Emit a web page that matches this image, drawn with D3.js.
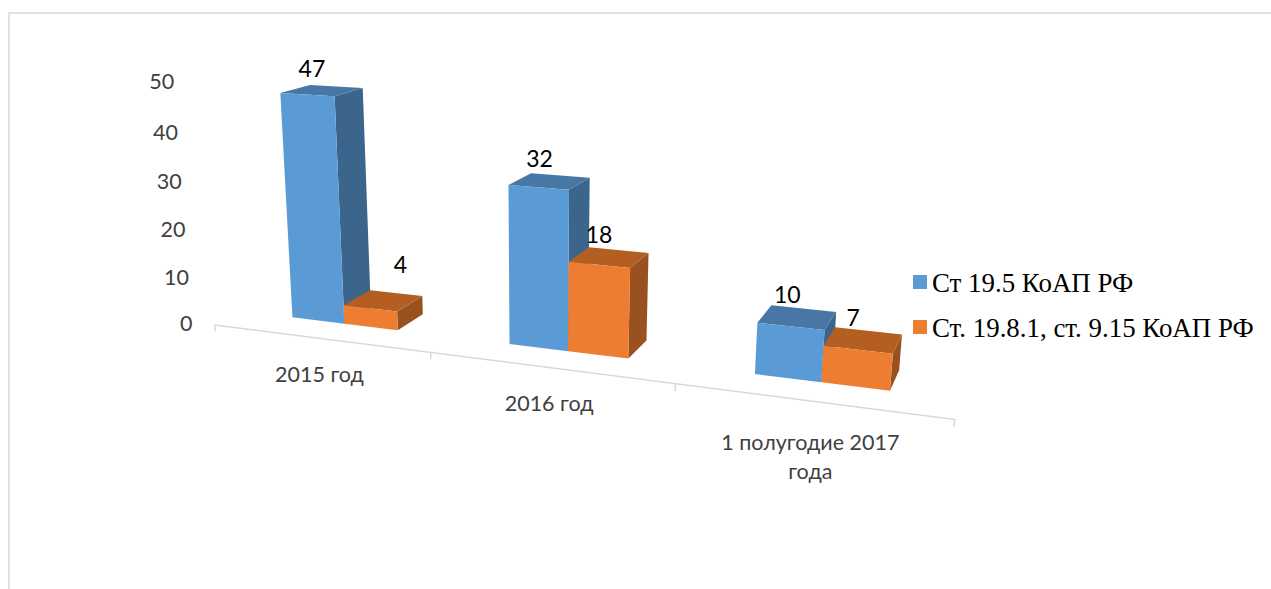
<!DOCTYPE html>
<html>
<head>
<meta charset="utf-8">
<style>
  body { margin: 0; background: #fff; }
  svg { display: block; }
  .tick-label { font-family: Lato, sans-serif; font-size: 21.5px; fill: #404040; }
  .data-label { font-family: Lato, sans-serif; font-size: 23px; fill: #000; }
  .legend-label { font-family: "Liberation Serif", serif; font-size: 26.9px; fill: #000; }
</style>
</head>
<body>
<div id="vis"></div>
<script src="https://d3js.org/d3.v7.min.js"></script>
<script>
const categories = ["2015 год", "2016 год", "1 полугодие 2017 года"];
const categoryLines = [["2015 год"], ["2016 год"], ["1 полугодие 2017", "года"]];
const seriesNames = ["Ст 19.5 КоАП РФ", "Ст. 19.8.1, ст. 9.15 КоАП РФ"];
const art195 = [47, 32, 10];
const art1981 = [4, 18, 7];
const yTicks = [0, 10, 20, 30, 40, 50];

const seriesValues = [art195, art1981];
const faceColors = [
  { front: "#5b9bd5", top: "#4877a5", side: "#3b658b" },
  { front: "#ed7d31", top: "#b55e22", side: "#9a5120" }
];

const width = 1271, height = 589;

// camera fitted to the picture: (band, value, depth) -> screen
function project(u, v, d) {
  const w = -0.0585645 * u - 0.00100836 * v + 0.0351334 * d + 1;
  return [
    (190.792 * u - 0.543888 * v + 39.5488 * d + 214.686) / w,
    (6.93082 * u - 4.94445 * v - 4.74024 * d + 324.918) / w
  ];
}

const x0 = d3.scaleBand().domain(categories).range([0, 3]);
const x1 = d3.scaleBand().domain(seriesNames).range([0.25, 0.75]);
const y = d3.scaleLinear().domain([0, 50]).range([0, 50]);
const depthFront = 0.88, depthBack = 1.88;

const svg = d3.select("#vis").append("svg")
  .attr("width", width)
  .attr("height", height);

// frame of the pasted picture
svg.append("path")
  .attr("d", "M9,589V13H1271")
  .attr("fill", "none")
  .attr("stroke", "#e0e0e0")
  .attr("stroke-width", 2);

// floor axis
const line = d3.line();
const floorEnds = [0, 3].map(u => project(u, 0, 0));
svg.append("path")
  .attr("d", line(floorEnds))
  .attr("fill", "none")
  .attr("stroke", "#d9d9d9")
  .attr("stroke-width", 1.5);

svg.selectAll(".axis-tick")
  .data(d3.range(categories.length + 1))
  .enter().append("path")
  .attr("class", "axis-tick")
  .attr("d", i => line([project(i, 0, 0), project(i, -1.4, 0)]))
  .attr("fill", "none")
  .attr("stroke", "#d9d9d9")
  .attr("stroke-width", 1.5);

// value labels on the left
svg.selectAll(".y-label")
  .data(yTicks)
  .enter().append("text")
  .attr("class", "tick-label y-label")
  .attr("text-anchor", "end")
  .attr("dy", ".35em")
  .attr("x", d => project(-0.11, y(d), 0)[0])
  .attr("y", d => project(-0.11, y(d), 0)[1] + 1.5)
  .text(d => d);

// category labels
categoryLines.forEach((lines, i) => {
  const p = project(x0(categories[i]) + x0.bandwidth() / 2, 0, 0);
  const top = p[1] + (lines.length > 1 ? 42 : 36);
  lines.forEach((t, k) => {
    svg.append("text")
      .attr("class", "tick-label")
      .attr("text-anchor", "middle")
      .attr("dy", ".35em")
      .attr("x", p[0])
      .attr("y", top + k * 29)
      .text(t);
  });
});

function face(points, color) {
  svg.append("path")
    .attr("d", line(points) + "Z")
    .attr("fill", color);
}

// boxes, left to right, blue first so orange overlaps it
categories.forEach((cat, c) => {
  seriesNames.forEach((name, s) => {
    const v = y(seriesValues[s][c]);
    const a = x0(cat) + x0.bandwidth() * x1(name);
    const b = a + x0.bandwidth() * x1.bandwidth();
    const colors = faceColors[s];
    face([project(b, 0, depthFront), project(b, 0, depthBack), project(b, v, depthBack), project(b, v, depthFront)], colors.side);
    face([project(a, v, depthFront), project(a, v, depthBack), project(b, v, depthBack), project(b, v, depthFront)], colors.top);
    face([project(a, 0, depthFront), project(b, 0, depthFront), project(b, v, depthFront), project(a, v, depthFront)], colors.front);
  });
});

// data labels sit above each box, the small 2015 one is pushed aside
categories.forEach((cat, c) => {
  seriesNames.forEach((name, s) => {
    const val = seriesValues[s][c];
    const mid = x0(cat) + x0.bandwidth() * (x1(name) + x1.bandwidth() / 2);
    const p = project(mid, y(val), (depthFront + depthBack) / 2);
    const pushed = c === 0 && s === 1;
    svg.append("text")
      .attr("class", "data-label")
      .attr("text-anchor", "middle")
      .attr("dy", ".35em")
      .attr("x", p[0] + (pushed ? 17 : -10))
      .attr("y", p[1] + (pushed ? -36 : -22))
      .text(val);
  });
});

// legend
const legendY = d3.scalePoint().domain(seriesNames).range([275, 320]);
seriesNames.forEach((name, s) => {
  svg.append("rect")
    .attr("x", 913)
    .attr("y", legendY(name))
    .attr("width", 14)
    .attr("height", 14)
    .attr("fill", faceColors[s].front);
  svg.append("text")
    .attr("class", "legend-label")
    .attr("x", 932)
    .attr("y", legendY(name) + 17)
    .text(name);
});
</script>
</body>
</html>
